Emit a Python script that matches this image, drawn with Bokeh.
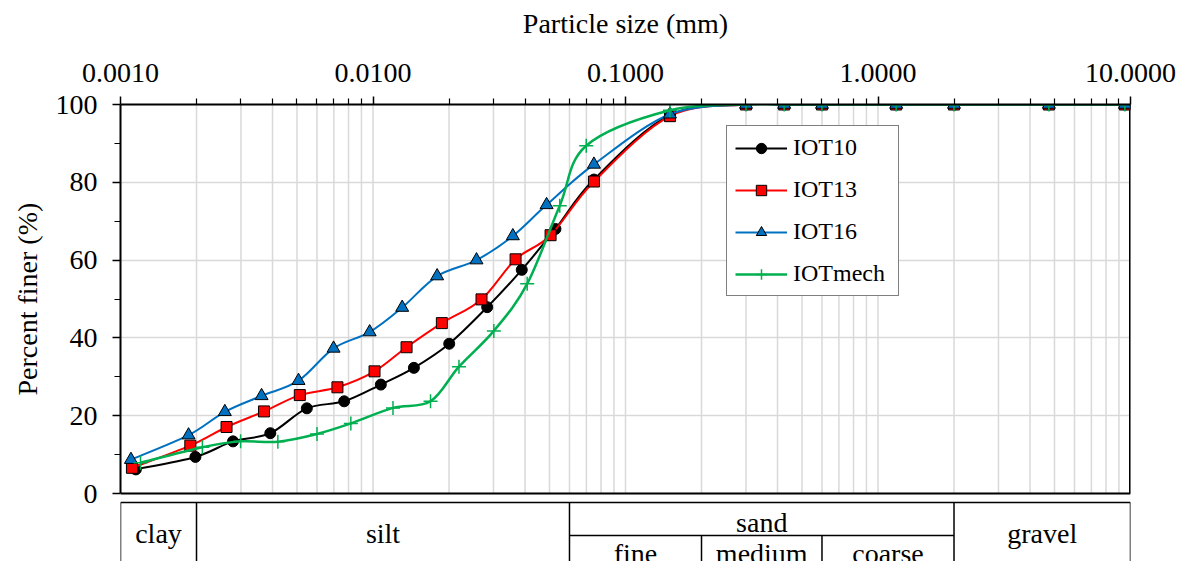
import numpy as np
from bokeh.plotting import figure
from bokeh.models import (Range1d, FixedTicker, PrintfTickFormatter, Legend, LegendItem,
                          ColumnDataSource, Title)
from bokeh.core.properties import value
from bokeh.embed import file_html
from bokeh.resources import INLINE

# ---------------- data ----------------
sieve_sizes = [0.15, 0.3, 0.425, 0.6, 1.18, 2.0, 4.75, 9.5]

iot10_x = [0.00115, 0.00198, 0.00279, 0.00392, 0.00547, 0.00769, 0.01074, 0.01452,
           0.02004, 0.02833, 0.03883, 0.0528, 0.075] + sieve_sizes
iot10_y = [6.2, 9.4, 13.4, 15.5, 21.9, 23.7, 28.0, 32.3, 38.5, 47.9, 57.5, 68.0, 80.7,
           97.3, 100, 100, 100, 100, 100, 100, 100]

iot13_x = [0.00111, 0.00189, 0.00263, 0.0037, 0.00513, 0.00723, 0.01014, 0.01358,
           0.01874, 0.0269, 0.0367, 0.0505, 0.075] + sieve_sizes
iot13_y = [6.6, 12.3, 17.1, 21.1, 25.3, 27.3, 31.4, 37.6, 43.8, 49.9, 60.2, 66.4, 80.2,
           97.0, 100, 100, 100, 100, 100, 100, 100]

iot16_x = [0.0011, 0.00186, 0.00259, 0.00362, 0.00507, 0.00698, 0.0097, 0.01305,
           0.01795, 0.0257, 0.0358, 0.0487, 0.075] + sieve_sizes
iot16_y = [8.7, 15.0, 21.0, 25.1, 29.0, 37.3, 41.5, 47.8, 55.9, 60.0, 66.2, 74.2, 84.6,
           97.5, 100, 100, 100, 100, 100, 100, 100]

iotmech_x = [0.0012, 0.00211, 0.00299, 0.0042, 0.0060, 0.00817, 0.0120, 0.0169,
             0.0219, 0.0301, 0.0408, 0.0549, 0.0699] + sieve_sizes
iotmech_y = [7.9, 11.9, 13.4, 13.3, 15.3, 18.0, 22.0, 23.7, 32.6, 41.8, 53.9, 74.0, 89.4,
             98.5, 100, 100, 100, 100, 100, 100, 100]

x_ticks = [0.001, 0.01, 0.1, 1, 10]
y_ticks = [0, 20, 40, 60, 80, 100]
y_minor = [10, 30, 50, 70, 90]

# soil classification table
class_bounds = [0.001, 0.002, 0.06, 2.0, 10]
class_labels = ["clay", "silt", "sand", "gravel"]
sand_bounds = [0.06, 0.2, 0.6, 2.0]
sand_labels = ["fine", "medium", "coarse"]

FONT = "Liberation Serif"

# ---------------- layout helpers ----------------
W, H = 1181, 561
FR_LEFT, FR_RIGHT = 120, 1130
FR_TOP, AX_BOTTOM = 104, 493          # page pixel rows of y=100 and y=0
PXU = (AX_BOTTOM - FR_TOP) / 100.0    # pixels per percent unit
Y_LO = 100 - (H - FR_TOP) / PXU


def py(page_y):
    """page pixel row below the chart -> y value in the (extended) y range"""
    return -(page_y - AX_BOTTOM) / PXU


# ---------------- smoothing (Excel-like Bezier) ----------------
def bezier_cols(xs, ys):
    lx = np.log10(np.asarray(xs, float))
    y = np.asarray(ys, float)
    n = len(lx)
    d = dict(x0=[], y0=[], x1=[], y1=[], cx0=[], cy0=[], cx1=[], cy1=[])
    for i in range(n - 1):
        pi = max(i - 1, 0)
        ni = min(i + 2, n - 1)
        c0x = lx[i] + (lx[i + 1] - lx[pi]) / 6.0
        c0y = y[i] + (y[i + 1] - y[pi]) / 6.0
        c1x = lx[i + 1] - (lx[ni] - lx[i]) / 6.0
        c1y = y[i + 1] - (y[ni] - y[i]) / 6.0
        d["x0"].append(10 ** lx[i]); d["y0"].append(y[i])
        d["x1"].append(10 ** lx[i + 1]); d["y1"].append(y[i + 1])
        d["cx0"].append(10 ** c0x); d["cy0"].append(c0y)
        d["cx1"].append(10 ** c1x); d["cy1"].append(c1y)
    return ColumnDataSource(d)


# ---------------- figure ----------------
p = figure(width=W, height=H, x_axis_type="log", x_axis_location="above",
           x_range=Range1d(0.001, 10), y_range=Range1d(Y_LO, 100),
           toolbar_location=None, output_backend="svg",
           min_border_left=FR_LEFT, min_border_right=W - FR_RIGHT,
           min_border_top=FR_TOP, min_border_bottom=0)
p.background_fill_color = "white"
p.border_fill_color = "white"
p.outline_line_color = None

minor_x = [m * 10.0 ** e for e in range(-3, 1) for m in range(2, 10)]
xt = FixedTicker(ticks=x_ticks, minor_ticks=minor_x)
yt = FixedTicker(ticks=y_ticks, minor_ticks=y_minor)

xa = p.xaxis[0]
xa.ticker = xt
xa.formatter = PrintfTickFormatter(format="%.4f")
xa.axis_label = "Particle size (mm)"
ya = p.yaxis[0]
ya.ticker = yt
ya.bounds = (0, 100)

for ax in (xa, ya):
    ax.axis_line_color = "black"
    ax.axis_line_width = 2
    ax.major_tick_line_color = "black"
    ax.major_tick_line_width = 1.5
    ax.minor_tick_line_color = "black"
    ax.minor_tick_line_width = 1.2
    ax.major_tick_in = 0
    ax.minor_tick_in = 0
    ax.major_tick_out = 8
    ax.minor_tick_out = 6
    ax.major_label_text_font = FONT
    ax.major_label_text_font_size = "28px"
    ax.major_label_text_color = "black"
    ax.axis_label_text_font = FONT
    ax.axis_label_text_font_size = "28px"
    ax.axis_label_text_font_style = "normal"
    ax.axis_label_text_color = "black"
xa.major_label_standoff = 15
xa.axis_label_standoff = 22
ya.major_label_standoff = 15

# y-axis title: placed beside the axis, centred on the 0-100 span
ytitle = Title(text="Percent finer (%)", align="left", offset=166, standoff=19,
               text_font=FONT, text_font_size="28px", text_font_style="normal",
               text_color="black")
p.add_layout(ytitle, "left")

# grid: horizontal via grid model, vertical drawn only over the chart area
p.xgrid.visible = False
p.ygrid.ticker = yt
p.ygrid.grid_line_color = "#d9d9d9"
p.ygrid.grid_line_width = 1.5
vg = sorted(x_ticks + minor_x)
p.segment(x0=vg, y0=[0] * len(vg), x1=vg, y1=[100] * len(vg),
          line_color="#d9d9d9", line_width=1.5)

# chart frame: bottom and right lines
p.segment(x0=[x_ticks[0]], y0=[0], x1=[x_ticks[-1]], y1=[0], line_color="black", line_width=2)
p.segment(x0=[x_ticks[-1]], y0=[0], x1=[x_ticks[-1]], y1=[100], line_color="black", line_width=3)

series = [
    ("IOT10", iot10_x, iot10_y, "black", dict(marker="circle", size=11, fill_color="black", line_color="black")),
    ("IOT13", iot13_x, iot13_y, "#ff0000", dict(marker="square", size=11, fill_color="#ff0000", line_color="black", line_width=1)),
    ("IOT16", iot16_x, iot16_y, "#0070c0", dict(marker="triangle", size=13, fill_color="#0070c0", line_color="black", line_width=1)),
    ("IOTmech", iotmech_x, iotmech_y, "#00b050", dict(marker="cross", size=14, line_color="#00b050", line_width=1.5)),
]

items = []
for name, xs, ys, col, mk in series:
    lw = 2.5 if name == "IOTmech" else 2
    br = p.bezier(x0="x0", y0="y0", x1="x1", y1="y1", cx0="cx0", cy0="cy0",
                  cx1="cx1", cy1="cy1", source=bezier_cols(xs, ys),
                  line_color=col, line_width=lw)
    sr = p.scatter(xs, ys, **mk)
    items.append(LegendItem(label=name, renderers=[br, sr]))

legend = Legend(items=items, location=(606, H - 296))
legend.label_text_font = FONT
legend.label_text_font_size = "24px"
legend.label_text_color = "black"
legend.border_line_color = "black"
legend.border_line_width = 1.5
legend.background_fill_color = "white"
legend.background_fill_alpha = 1
legend.glyph_width = 52
legend.glyph_height = 26
legend.label_height = 26
legend.label_width = 97
legend.label_standoff = 6
legend.spacing = 15
legend.padding = 8
legend.margin = 0
p.add_layout(legend, "center")

# ---------------- classification table ----------------
top, mid, bot = py(502), py(535), py(580)
lw_t = 1.5
p.segment(x0=[class_bounds[0]], y0=[top], x1=[class_bounds[-1]], y1=[top],
          line_color="black", line_width=lw_t)
p.segment(x0=class_bounds, y0=[top] * len(class_bounds), x1=class_bounds,
          y1=[bot] * len(class_bounds), line_color="black", line_width=lw_t)
p.segment(x0=[sand_bounds[0]], y0=[mid], x1=[sand_bounds[-1]], y1=[mid],
          line_color="black", line_width=lw_t)
p.segment(x0=sand_bounds[1:-1], y0=[mid] * 2, x1=sand_bounds[1:-1], y1=[bot] * 2,
          line_color="black", line_width=lw_t)


def gmid(a, b):
    return 10 ** ((np.log10(a) + np.log10(b)) / 2)


cx = [gmid(class_bounds[i], class_bounds[i + 1]) for i in range(4)]
cy = [py(533), py(533), py(521.5), py(533)]
p.text(x=cx, y=cy, text=class_labels, text_font=value(FONT), text_font_size="28px",
       text_align="center", text_baseline="middle", text_color="black")
sx = [gmid(sand_bounds[i], sand_bounds[i + 1]) for i in range(3)]
p.text(x=sx, y=[py(552.5)] * 3, text=sand_labels, text_font=value(FONT),
       text_font_size="28px", text_align="center", text_baseline="middle", text_color="black")

open("out.html", "w").write(file_html(p, INLINE))
